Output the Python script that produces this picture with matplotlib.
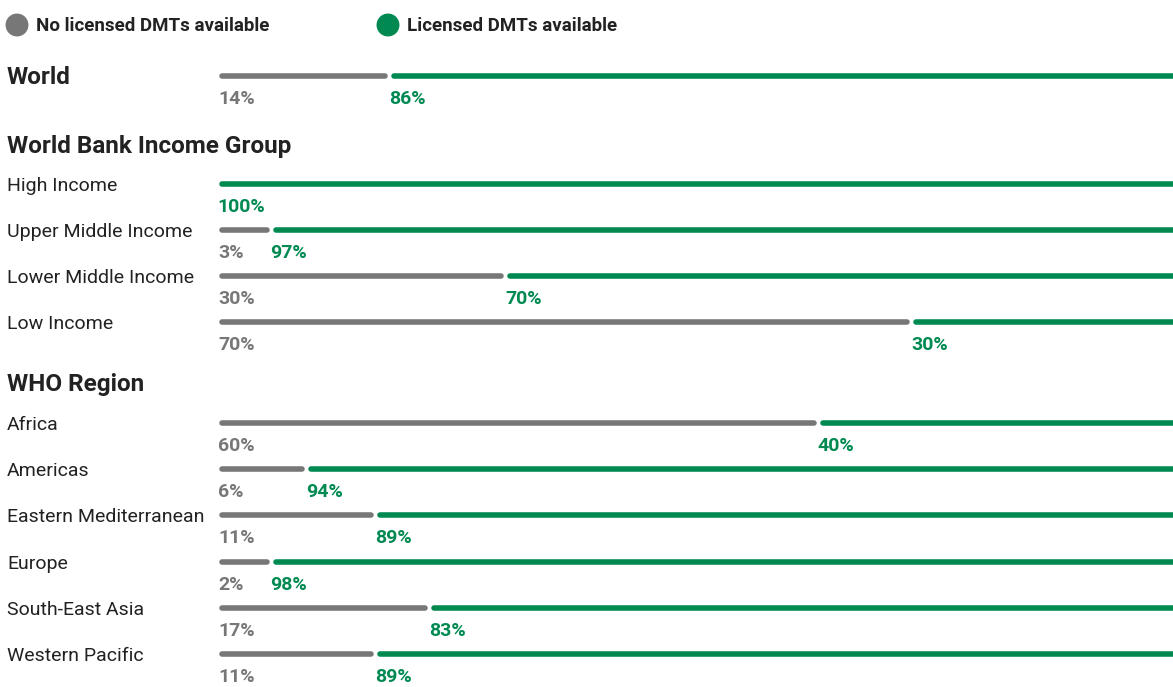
import matplotlib.pyplot as plt

plt.rcParams['font.family'] = ['Roboto', 'DejaVu Sans']

GRAY = '#777777'
GREEN = '#008a51'
TEXT = '#222222'

# rows: (section, label)
sections = ['World', 'World Bank Income Group', 'WHO Region']
income_labels = ['High Income', 'Upper Middle Income', 'Lower Middle Income', 'Low Income']
who_labels = ['Africa', 'Americas', 'Eastern Mediterranean', 'Europe',
              'South-East Asia', 'Western Pacific']

# percent shown in labels (no licensed DMTs / licensed DMTs)
world_no, world_yes = 14, 86
income_no = [0, 3, 30, 70]
income_yes = [100, 97, 70, 30]
who_no = [60, 6, 11, 2, 17, 11]
who_yes = [40, 94, 89, 98, 83, 89]

# gray bar length as share of visible track
world_bar = 0.175
income_bar = [0.0, 0.051, 0.297, 0.723]
who_bar = [0.625, 0.088, 0.161, 0.051, 0.217, 0.161]

fig = plt.figure(figsize=(11.73, 6.87), dpi=100)
ax = fig.add_axes([0, 0, 1, 1])
ax.set_xlim(0, 1173)
ax.set_ylim(687, 0)
ax.axis('off')

X0, W = 220, 953
GAP = 5


def bar_row(y, share, no, yes, label=None, bold=False):
    if label:
        ax.text(7, y + 2, label, fontsize=17.5 if bold else 14,
                fontweight='bold' if bold else 'normal', color=TEXT,
                va='center', ha='left')
    xe = X0 + share * W
    if share > 0:
        ax.plot([X0 + 2, xe - 2], [y, y], color=GRAY, lw=4,
                solid_capstyle='round')
        ax.text(X0 - 2, y + 23, f'{no}%', color=GRAY, fontsize=14,
                fontweight='bold', va='center', ha='left')
        xg = xe + GAP
    else:
        xg = X0
    ax.plot([xg + 2, 1180], [y, y], color=GREEN, lw=4,
            solid_capstyle='round')
    ax.text(xg - 3, y + 23, f'{yes}%', color=GREEN, fontsize=14,
            fontweight='bold', va='center', ha='left')


# legend
ax.scatter([17, 388], [25, 25], s=240, color=[GRAY, GREEN], zorder=3)
ax.text(36, 26, 'No licensed DMTs available', fontsize=13.5, fontweight='bold',
        color=TEXT, va='center')
ax.text(407, 26, 'Licensed DMTs available', fontsize=13.5, fontweight='bold',
        color=TEXT, va='center')

bar_row(76, world_bar, world_no, world_yes, sections[0], bold=True)

ax.text(7, 146, sections[1], fontsize=17.5, fontweight='bold', color=TEXT, va='center')
for i, lab in enumerate(income_labels):
    bar_row(184 + i * 46, income_bar[i], income_no[i], income_yes[i], lab)

ax.text(7, 384, sections[2], fontsize=17.5, fontweight='bold', color=TEXT, va='center')
for i, lab in enumerate(who_labels):
    bar_row(423 + i * 46.2, who_bar[i], who_no[i], who_yes[i], lab)

fig.savefig('out.png', dpi=100)
